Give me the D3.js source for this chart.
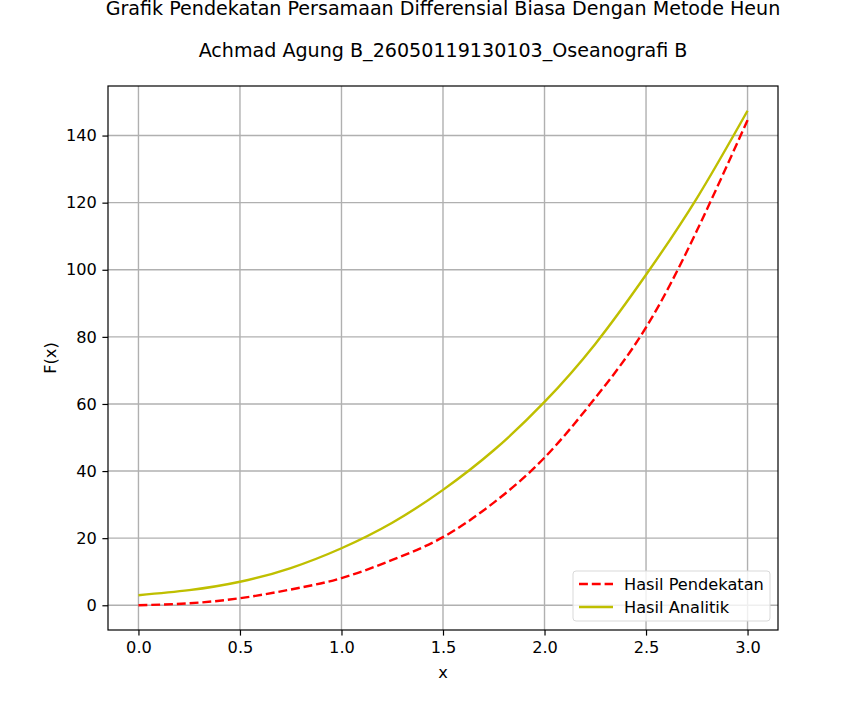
<!DOCTYPE html>
<html>
<head>
<meta charset="utf-8">
<script src="https://cdn.jsdelivr.net/npm/d3@7"></script>
<style>
  body { margin: 0; background: #fff; }
  svg { font-family: "DejaVu Sans", sans-serif; }
</style>
</head>
<body>
<script>
// values
var xValues = [0, 0.25, 0.5, 0.75, 1.0, 1.25, 1.5, 1.75, 2.0, 2.25, 2.5, 2.75, 3.0];
var heunValues = [0, 0.6, 2.1, 4.7, 8.1, 13.5, 20.3, 30.6, 44.0, 61.8, 82.8, 111.6, 144.6];
var analyticValues = [3.0, 4.5, 7.0, 11.1, 17.0, 24.6, 34.4, 46.2, 60.6, 77.9, 98.5, 121.3, 147.4];
var xTicks = [0.0, 0.5, 1.0, 1.5, 2.0, 2.5, 3.0];
var yTicks = [0, 20, 40, 60, 80, 100, 120, 140];
var titleLines = ["Grafik Pendekatan Persamaan Differensial Biasa Dengan Metode Heun",
                  "Achmad Agung B_26050119130103_Oseanografi B"];

var W = 864, H = 720;
var margin = { top: 86, right: 86, bottom: 90, left: 108 },
  width = W - margin.left - margin.right,
  height = H - margin.top - margin.bottom;

var fs = 16.2, titleFs = 19.1;

var svg = d3.select("body").append("svg")
  .attr("width", W)
  .attr("height", H);

var g = svg.append("g")
  .attr("transform", "translate(" + margin.left + "," + margin.top + ")");

// matplotlib style 5% padding around the data
var yMax = d3.max(analyticValues.concat(heunValues)), yMin = 0;
var yPad = (yMax - yMin) * 0.05;

var x = d3.scaleLinear().domain([-0.15, 3.15]).range([0, width]);
var y = d3.scaleLinear().domain([yMin - yPad, yMax + yPad]).range([height, 0]);

// grid
g.append("g").selectAll("line").data(xTicks).enter().append("line")
  .attr("x1", function(d) { return x(d); })
  .attr("x2", function(d) { return x(d); })
  .attr("y1", 0).attr("y2", height)
  .attr("stroke", "#b0b0b0").attr("stroke-width", 1.4);

g.append("g").selectAll("line").data(yTicks).enter().append("line")
  .attr("y1", function(d) { return y(d); })
  .attr("y2", function(d) { return y(d); })
  .attr("x1", 0).attr("x2", width)
  .attr("stroke", "#b0b0b0").attr("stroke-width", 1.4);

// axes
var xAxis = d3.axisBottom(x).tickValues(xTicks).tickFormat(d3.format(".1f"))
  .tickSizeInner(5.6).tickSizeOuter(0).tickPadding(5.6);
var yAxis = d3.axisLeft(y).tickValues(yTicks).tickFormat(d3.format("d"))
  .tickSizeInner(5.6).tickSizeOuter(0).tickPadding(5.6);

var gx = g.append("g")
  .attr("transform", "translate(0," + height + ")")
  .call(xAxis);
var gy = g.append("g").call(yAxis);

[gx, gy].forEach(function(a) {
  a.select(".domain").remove();
  a.selectAll("line").attr("stroke", "#000").attr("stroke-width", 1.2);
  a.selectAll("text").attr("font-size", fs + "px").attr("fill", "#000")
    .attr("font-family", "DejaVu Sans, sans-serif");
});

// lines, smoothed with a natural spline through the read points
var pts = function(vals) { return xValues.map(function(v, i) { return [v, vals[i]]; }); };
var line = d3.line()
  .x(function(d) { return x(d[0]); })
  .y(function(d) { return y(d[1]); })
  .curve(d3.curveNatural);

g.append("path").datum(pts(heunValues))
  .attr("d", line)
  .attr("fill", "none")
  .attr("stroke", "#ff0000")
  .attr("stroke-width", 2.4)
  .attr("stroke-dasharray", "8.9,3.9");

g.append("path").datum(pts(analyticValues))
  .attr("d", line)
  .attr("fill", "none")
  .attr("stroke", "#bfbf00")
  .attr("stroke-width", 2.4);

// frame
g.append("rect")
  .attr("width", width).attr("height", height)
  .attr("fill", "none").attr("stroke", "#000").attr("stroke-width", 1.2);

// titles
svg.selectAll(".title").data(titleLines).enter().append("text")
  .attr("class", "title")
  .attr("x", margin.left + width / 2)
  .attr("y", function(d, i) { return 15 + i * 42; })
  .attr("text-anchor", "middle")
  .attr("font-size", titleFs + "px")
  .attr("fill", "#000")
  .text(function(d) { return d; });

// axis labels
svg.append("text")
  .attr("x", margin.left + width / 2)
  .attr("y", 678)
  .attr("text-anchor", "middle")
  .attr("font-size", fs + "px")
  .text("x");

svg.append("text")
  .attr("transform", "translate(56," + (margin.top + height / 2) + ") rotate(-90)")
  .attr("text-anchor", "middle")
  .attr("font-size", fs + "px")
  .text("F(x)");

// legend
var legendItems = [
  { label: "Hasil Pendekatan", color: "#ff0000", dash: "8.9,3.9" },
  { label: "Hasil Analitik", color: "#bfbf00", dash: null }
];
var lg = svg.append("g").attr("transform", "translate(573,571)");
lg.append("rect")
  .attr("width", 197).attr("height", 50)
  .attr("rx", 3).attr("ry", 3)
  .attr("fill", "#fff").attr("fill-opacity", 0.8)
  .attr("stroke", "#d9d9d9").attr("stroke-width", 1);

var item = lg.selectAll(".item").data(legendItems).enter().append("g")
  .attr("transform", function(d, i) { return "translate(0," + (13 + i * 23) + ")"; });
item.append("line")
  .attr("x1", 6).attr("x2", 40)
  .attr("stroke", function(d) { return d.color; })
  .attr("stroke-width", 2.4)
  .attr("stroke-dasharray", function(d) { return d.dash; });
item.append("text")
  .attr("x", 51).attr("y", 6)
  .attr("font-size", fs + "px")
  .text(function(d) { return d.label; });
</script>
</body>
</html>
